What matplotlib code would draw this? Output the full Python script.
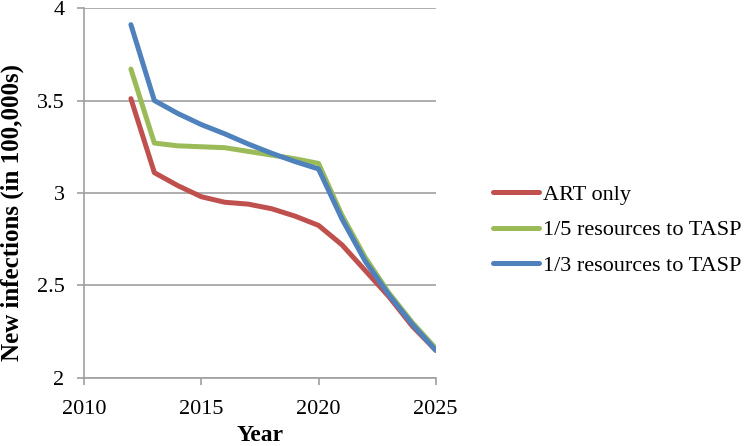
import matplotlib
matplotlib.use("Agg")
import matplotlib.pyplot as plt

years = list(range(2012, 2026))
art_only = [3.51, 3.11, 3.04, 2.98, 2.95, 2.94, 2.915, 2.875, 2.825, 2.72, 2.58, 2.44, 2.28, 2.15]
tasp_fifth = [3.67, 3.27, 3.255, 3.25, 3.245, 3.225, 3.205, 3.185, 3.16, 2.88, 2.65, 2.46, 2.30, 2.16]
tasp_third = [3.91, 3.50, 3.43, 3.37, 3.32, 3.265, 3.215, 3.17, 3.13, 2.86, 2.63, 2.45, 2.29, 2.15]
labels = ["ART only", "1/5 resources to TASP", "1/3 resources to TASP"]
colors = ["#c0504d", "#9bbb59", "#4f81bd"]

plt.rcParams['font.family'] = ['Liberation Serif', 'DejaVu Serif']

fig = plt.figure(figsize=(7.5, 4.46), dpi=100)
ax = fig.add_axes([0.112, 0.1525, 0.469, 0.8295])

for vals, lab, c in zip([art_only, tasp_fifth, tasp_third], labels, colors):
    ax.plot(years, vals, color=c, lw=3.6, label=lab, solid_capstyle='round')

ax.set_xlim(2010, 2025)
ax.set_ylim(2, 4)
ax.set_xticks([2010, 2015, 2020, 2025])
ax.set_yticks([2, 2.5, 3, 3.5, 4])
ax.set_yticklabels(["2", "2.5", "3", "3.5", "4"])
ax.grid(axis='y', color='#a0a0a0', lw=1.2)
ax.set_axisbelow(True)
for s in ['top', 'right']:
    ax.spines[s].set_visible(False)
for s in ['left', 'bottom']:
    ax.spines[s].set_color('#a0a0a0')
    ax.spines[s].set_linewidth(1.2)
ax.tick_params(axis='both', colors='#a0a0a0', labelcolor='black', labelsize=16, length=5, width=1.2)
ax.tick_params(axis='x', pad=10.5)
ax.tick_params(axis='y', pad=9)
ax.set_xlabel("Year", fontsize=17, fontweight='bold', labelpad=5)
ax.set_ylabel("New infections (in 100,000s)", fontsize=18, fontweight='bold')
ax.yaxis.set_label_coords(-0.17, 0.446)

ax.legend(loc='center left', bbox_to_anchor=(1.162, 0.40), frameon=False, fontsize=16,
          handlelength=2.1, handletextpad=0.15, labelspacing=0.68,
          borderpad=0, borderaxespad=0)

fig.savefig("out.png", dpi=100)
